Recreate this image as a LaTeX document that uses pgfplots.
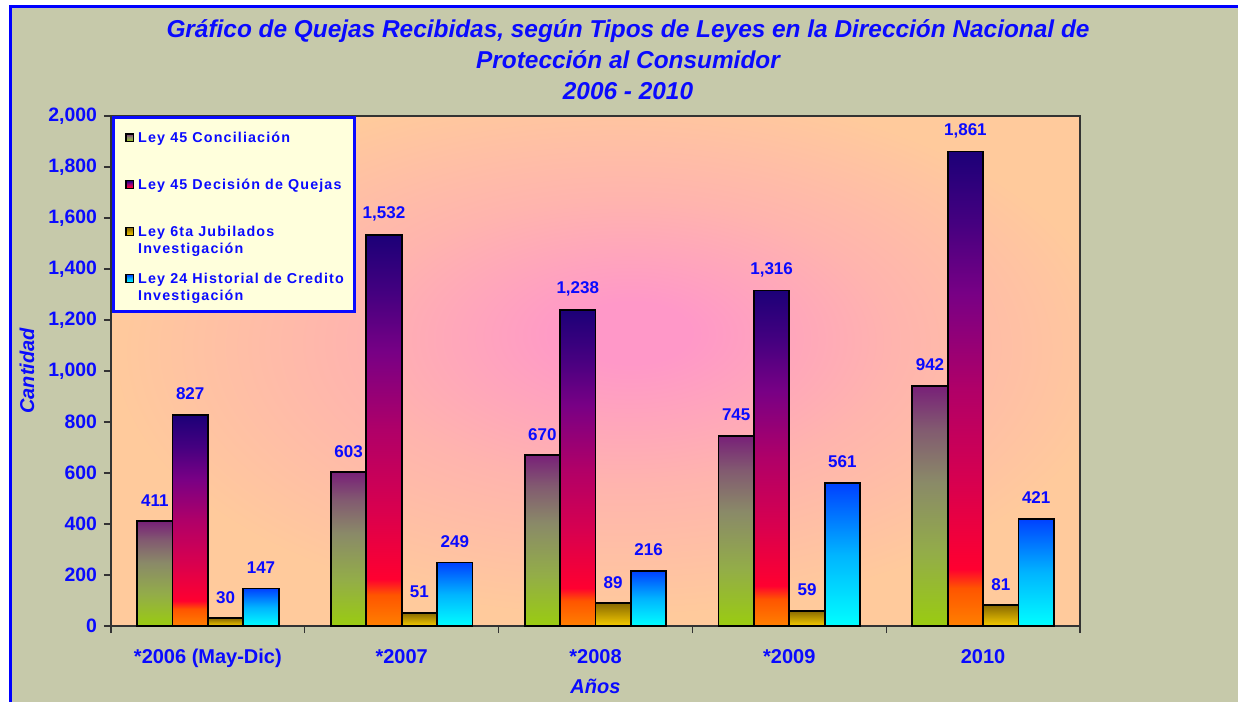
\documentclass[border=0pt]{standalone}
\usepackage{fontspec}
\setmainfont{Liberation Sans}
\newfontfamily\legfont[LetterSpace=8]{Liberation Sans}
\usepackage{pgfplots}
\pgfplotsset{compat=1.18}

\definecolor{txtblue}{HTML}{0A0AFF}
\definecolor{bgtex}{HTML}{C6C9AA}
\definecolor{peachc}{HTML}{FFCA9C}
\definecolor{midc}{HTML}{FFB4AE}
\definecolor{pinkc}{HTML}{FF98C8}
\definecolor{legfill}{HTML}{FFFFDC}
% Ley 45 Conciliacion
\definecolor{c1a}{HTML}{9ACC10}
\definecolor{c1b}{HTML}{93AD48}
\definecolor{c1c}{HTML}{8A8A68}
\definecolor{c1d}{HTML}{825A70}
\definecolor{c1e}{HTML}{782078}
% Ley 45 Decision
\definecolor{c2a}{HTML}{FF8000}
\definecolor{c2b}{HTML}{FF5500}
\definecolor{c2c}{HTML}{FF0030}
\definecolor{c2d}{HTML}{D8004F}
\definecolor{c2e}{HTML}{B00068}
\definecolor{c2f}{HTML}{780085}
\definecolor{c2g}{HTML}{450080}
\definecolor{c2h}{HTML}{1C0078}
% Ley 6ta
\definecolor{c3a}{HTML}{F5CC00}
\definecolor{c3b}{HTML}{8A6A00}
% Ley 24
\definecolor{c4a}{HTML}{00FFFF}
\definecolor{c4b}{HTML}{00B4FF}
\definecolor{c4c}{HTML}{0040FF}

\pgfdeclareverticalshading{sa}{100bp}{color(0bp)=(c1a); color(25bp)=(c1a); color(40bp)=(c1b); color(55bp)=(c1c); color(66bp)=(c1d); color(75bp)=(c1e); color(100bp)=(c1e)}
\pgfdeclareverticalshading{sb}{100bp}{color(0bp)=(c2a); color(25bp)=(c2a); color(29bp)=(c2b); color(31bp)=(c2c); color(40bp)=(c2d); color(50bp)=(c2e); color(60bp)=(c2f); color(67.5bp)=(c2g); color(75bp)=(c2h); color(100bp)=(c2h)}
\pgfdeclareverticalshading{sc}{100bp}{color(0bp)=(c3a); color(25bp)=(c3a); color(75bp)=(c3b); color(100bp)=(c3b)}
\pgfdeclareverticalshading{sd}{100bp}{color(0bp)=(c4a); color(25bp)=(c4a); color(50bp)=(c4b); color(75bp)=(c4c); color(100bp)=(c4c)}
\pgfdeclareradialshading{plotbg}{\pgfpoint{2bp}{4bp}}{color(0bp)=(pinkc); color(3bp)=(pinkc); color(14bp)=(midc); color(26bp)=(peachc); color(50bp)=(peachc)}

\newcommand\lgentry[2]{\begin{tabular}[t]{@{}l@{}}#1\\#2\end{tabular}}

% one bar per \addplot so that every bar gets its own gradient
\pgfplotsset{
  barA/.style={draw=black, line width=0.9pt, shade, shading=sa, bar shift=-0.27405},
  barB/.style={draw=black, line width=0.9pt, shade, shading=sb, bar shift=-0.09135},
  barC/.style={draw=black, line width=0.9pt, shade, shading=sc, bar shift=0.09135},
  barD/.style={draw=black, line width=0.9pt, shade, shading=sd, bar shift=0.27405},
}

\begin{document}
\begin{tikzpicture}
\path[use as bounding box] (0,0) rectangle (619pt,351pt);
\fill[white] (0,0) rectangle (619pt,351pt);
\fill[bgtex] (5.15pt,0) rectangle (619pt,347.75pt);
\draw[blue, line width=1.5pt] (5.15pt,0) -- (5.15pt,347.75pt) -- (619pt,347.75pt);

\begin{axis}[
    at={(55.5pt,38pt)}, anchor=south west,
    width=484.5pt, height=255pt, scale only axis,
    axis background/.style={shade, shading=plotbg},
    ymin=0, ymax=2000, ytick={0,200,...,2000},
    xmin=-0.5, xmax=4.5,
    xtick={0,...,4},
    xticklabels={*2006 (May-Dic),*2007,*2008,*2009,2010},
    minor xtick={-0.5,0.5,...,4.5},
    major x tick style={draw=none},
    tick align=outside, xtick pos=left, ytick pos=left,
    major tick length=3.5pt, minor tick length=3.5pt,
    axis line style={draw=black!80, line width=0.7pt},
    tick style={black!80, line width=0.6pt},
    ybar, bar width=0.1827,
    /pgf/number format/1000 sep={,},
    /pgf/number format/assume math mode=true,
    nodes near coords,
    every node near coord/.append style={font=\fontsize{8.5}{10}\selectfont\bfseries, text=txtblue, anchor=center, yshift=10.5pt},
    yticklabel style={font=\fontsize{9.7}{11}\selectfont\bfseries, text=txtblue},
    xticklabel style={font=\fontsize{10}{12}\selectfont\bfseries, text=txtblue, yshift=-4.5pt},
    ylabel={Cantidad},
    ylabel style={font=\fontsize{10}{12}\selectfont\bfseries\itshape, text=txtblue, at={(axis description cs:-0.0867,0.5)}, anchor=center},
    xlabel={Años},
    xlabel style={font=\fontsize{10}{12}\selectfont\bfseries\itshape, text=txtblue, at={(axis description cs:0.5,-0.1176)}, anchor=center},
    legend style={at={(0.0145,0.980)}, anchor=north west, draw=none, fill=none, inner sep=0pt,
        font=\legfont\fontsize{7.15}{8.5}\selectfont\bfseries, text=txtblue,
        row sep=12pt, cells={anchor=base west}},
    legend image code/.code={\draw[#1, line width=0.6pt] (0pt,0.5pt) rectangle (3.8pt,4.3pt);},
]
% first bar of each series carries the legend entry
\addplot[barA] coordinates {(0,411)};
\addplot[barB] coordinates {(0,827)};
\addplot[barC] coordinates {(0,30)};
\addplot[barD] coordinates {(0,147)};
% Ley 45 Conciliacion
\addplot[barA, forget plot] coordinates {(1,603)};
\addplot[barA, forget plot] coordinates {(2,670)};
\addplot[barA, forget plot] coordinates {(3,745)};
\addplot[barA, forget plot] coordinates {(4,942)};
% Ley 45 Decision de Quejas
\addplot[barB, forget plot] coordinates {(1,1532)};
\addplot[barB, forget plot] coordinates {(2,1238)};
\addplot[barB, forget plot] coordinates {(3,1316)};
\addplot[barB, forget plot] coordinates {(4,1861)};
% Ley 6ta Jubilados
\addplot[barC, forget plot] coordinates {(1,51)};
\addplot[barC, forget plot] coordinates {(2,89)};
\addplot[barC, forget plot] coordinates {(3,59)};
\addplot[barC, forget plot] coordinates {(4,81)};
% Ley 24 Historial de Credito
\addplot[barD, forget plot] coordinates {(1,249)};
\addplot[barD, forget plot] coordinates {(2,216)};
\addplot[barD, forget plot] coordinates {(3,561)};
\addplot[barD, forget plot] coordinates {(4,421)};
\draw[txtblue, line width=1.5pt, fill=legfill] (rel axis cs:0.0021,0.6157) rectangle (rel axis cs:0.2518,0.9961);
\legend{{\lgentry{Ley 45 Conciliación}{\mbox{}}},
        {\lgentry{Ley 45 Decisión de Quejas}{\mbox{}}},
        {\lgentry{Ley 6ta Jubilados}{Investigación}},
        {\lgentry{Ley 24 Historial de Credito}{Investigación}}}
\end{axis}

\node[font=\fontsize{12.2}{15.5}\selectfont\bfseries\itshape, text=txtblue, align=center]
  at (314pt,321pt) {Gráfico de Quejas Recibidas, según Tipos de Leyes en la Dirección Nacional de\\Protección al Consumidor\\2006 - 2010};
\end{tikzpicture}
\end{document}
